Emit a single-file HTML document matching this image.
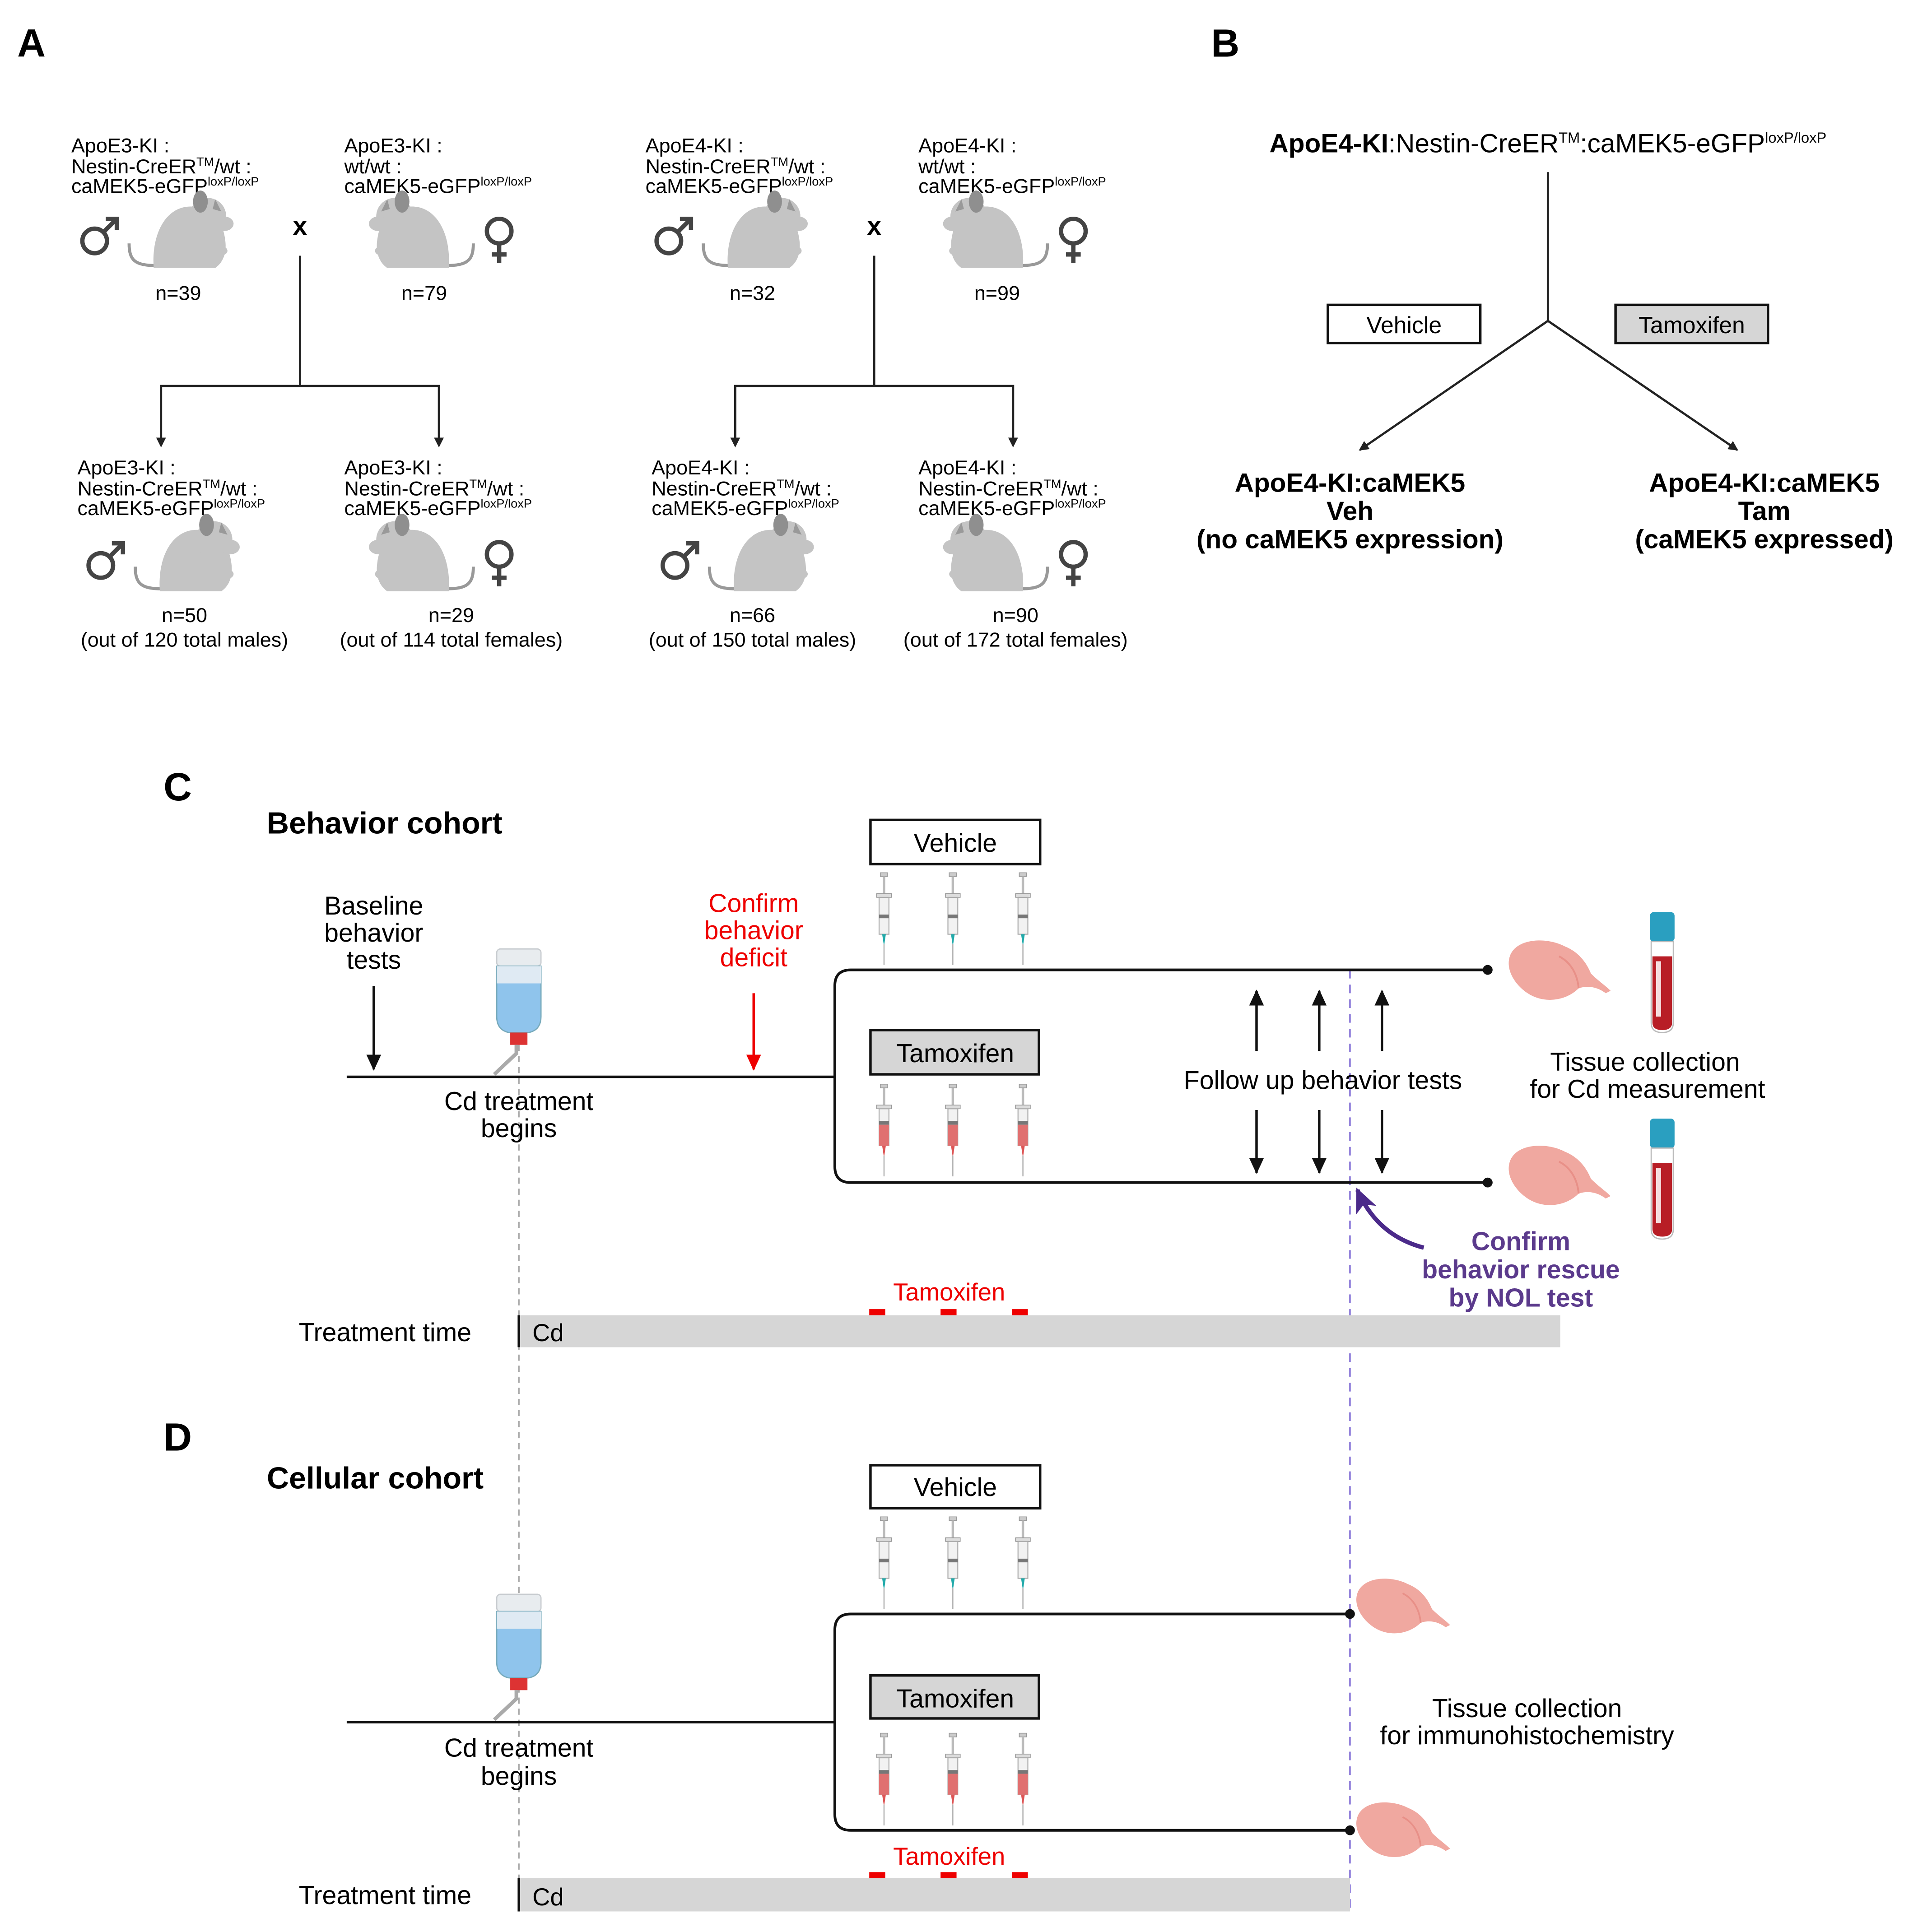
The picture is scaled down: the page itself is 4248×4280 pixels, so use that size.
<!DOCTYPE html>
<html><head><meta charset="utf-8"><style>
html,body{margin:0;padding:0;background:#fff;}
svg{display:block;}
text{font-family:"Liberation Sans",sans-serif;}
</style></head><body>
<svg width="4248" height="4280" viewBox="0 0 1560 1571.7" xmlns="http://www.w3.org/2000/svg">
<defs>
<marker id="ah" markerWidth="8" markerHeight="8" refX="7" refY="4" orient="auto" markerUnits="userSpaceOnUse"><path d="M0,0 L8,4 L0,8 z" fill="#222"/></marker>
<marker id="ahb" markerWidth="14" markerHeight="14" refX="12" refY="7" orient="auto" markerUnits="userSpaceOnUse"><path d="M0,1 L13,7 L0,13 z" fill="#111"/></marker>
<marker id="ahr" markerWidth="14" markerHeight="14" refX="12" refY="7" orient="auto" markerUnits="userSpaceOnUse"><path d="M0,1 L13,7 L0,13 z" fill="#e00"/></marker>
<marker id="ahp" markerWidth="22" markerHeight="22" refX="18" refY="11" orient="auto" markerUnits="userSpaceOnUse"><path d="M0,2 L20,11 L0,20 L5,11 z" fill="#4b2a8a"/></marker>
<g id="mouse">
<path d="M-28,26 C-45,26 -50,22 -50,8" fill="none" stroke="#999" stroke-width="2.5"/>
<path d="M-30,28 C-32,0 -20,-22 0,-22 C18,-22 26,-10 28,4 C30,16 26,24 20,28z" fill="#c4c4c4"/>
<circle cx="14" cy="-14" r="15" fill="#c4c4c4"/>
<ellipse cx="27" cy="-8" rx="8" ry="6" fill="#c4c4c4"/>
<ellipse cx="8" cy="-26" rx="6" ry="9" fill="#8f8f8f"/>
<path d="M20,-28 L25,-18 L18,-20z" fill="#999"/>
<ellipse cx="24" cy="14" rx="6" ry="4" fill="#c4c4c4"/>
</g>
<g id="male"><circle cx="0" cy="0" r="10" fill="none" stroke="#444" stroke-width="3.5"/><path d="M7,-7 L17,-17 M9,-18 L18,-18 L18,-9" fill="none" stroke="#444" stroke-width="3.5"/></g>
<g id="female"><circle cx="0" cy="0" r="10" fill="none" stroke="#444" stroke-width="3.5"/><path d="M0,10 L0,26 M-6,19 L6,19" fill="none" stroke="#444" stroke-width="3.5"/></g>
<g id="syrV">
<rect x="-3" y="0" width="6" height="3" fill="#ccc" stroke="#999" stroke-width="0.6"/>
<rect x="-1" y="3" width="2" height="14" fill="#bbb"/>
<rect x="-6" y="17" width="12" height="3" fill="#ddd" stroke="#999" stroke-width="0.6"/>
<rect x="-4" y="20" width="8" height="30" fill="#f2f2f2" stroke="#aaa" stroke-width="0.8"/>
<rect x="-4" y="34" width="8" height="3" fill="#777"/>
<path d="M-1.5,50 L1.5,50 L0,60z" fill="#2aa"/>
<line x1="0" y1="58" x2="0" y2="75" stroke="#999" stroke-width="0.8"/>
</g>
<g id="syrT">
<rect x="-3" y="0" width="6" height="3" fill="#ccc" stroke="#999" stroke-width="0.6"/>
<rect x="-1" y="3" width="2" height="14" fill="#bbb"/>
<rect x="-6" y="17" width="12" height="3" fill="#ddd" stroke="#999" stroke-width="0.6"/>
<rect x="-4" y="20" width="8" height="30" fill="#f2f2f2" stroke="#aaa" stroke-width="0.8"/>
<rect x="-4" y="30" width="8" height="3" fill="#777"/>
<rect x="-4" y="33" width="8" height="17" fill="#e07070"/>
<path d="M-1.5,50 L1.5,50 L0,60z" fill="#d55"/>
<line x1="0" y1="58" x2="0" y2="75" stroke="#999" stroke-width="0.8"/>
</g>
<g id="bottle">
<rect x="-18" y="0" width="36" height="14" rx="3" fill="#e8ecef" stroke="#c8ccd0"/>
<path d="M-18,14 L18,14 L18,55 Q18,66 8,68 L-8,68 Q-18,66 -18,55z" fill="#8fc4ec" stroke="#7ab"/>
<rect x="-18" y="14" width="36" height="14" fill="#dfeaf3"/>
<rect x="-7" y="68" width="14" height="10" fill="#d33"/>
<path d="M-2,78 L-2,85 L-20,102" fill="none" stroke="#aaa" stroke-width="3"/>
</g>
<g id="brain">
<path d="M0,10 C5,-5 30,-6 45,2 C55,6 62,14 66,24 C72,30 78,34 82,38 L78,40 C70,34 62,34 56,36 C46,46 30,48 18,42 C6,36 -4,22 0,10z" fill="#f0a8a0"/>
<path d="M40,10 C50,15 55,25 56,36" fill="none" stroke="#e89088" stroke-width="1.5"/>
</g>
<g id="tube">
<rect x="-10" y="0" width="20" height="24" rx="3" fill="#2a9fc0"/>
<path d="M-9,24 L9,24 L9,90 Q9,98 0,98 Q-9,98 -9,90z" fill="#fff" stroke="#bbb"/>
<path d="M-8,36 L8,36 L8,90 Q8,96 0,96 Q-8,96 -8,90z" fill="#b81e26"/>
<rect x="-5" y="40" width="4" height="45" fill="#fff" opacity="0.85"/>
</g>
</defs>

<text x="14" y="46" font-size="32" font-weight="bold">A</text>
<text x="985" y="46" font-size="32" font-weight="bold">B</text>
<text x="133" y="651" font-size="32" font-weight="bold">C</text>
<text x="133" y="1180" font-size="32" font-weight="bold">D</text>

<g font-size="16.5">
<text x="58" y="124">ApoE3-KI :</text>
<text x="58" y="141">Nestin-CreER<tspan font-size="10" dy="-6">TM</tspan><tspan dy="6">/wt :</tspan></text>
<text x="58" y="157">caMEK5-eGFP<tspan font-size="10" dy="-6">loxP/loxP</tspan></text>
<use href="#male" x="77" y="196"/>
<use href="#mouse" x="155" y="190"/>
<text x="244" y="191" font-size="21" font-weight="bold" text-anchor="middle">x</text>
<text x="145" y="244" text-anchor="middle">n=39</text>

<text x="280" y="124">ApoE3-KI :</text>
<text x="280" y="141">wt/wt :</text>
<text x="280" y="157">caMEK5-eGFP<tspan font-size="10" dy="-6">loxP/loxP</tspan></text>
<use href="#mouse" transform="translate(335,190) scale(-1,1)"/>
<use href="#female" x="406" y="188"/>
<text x="345" y="244" text-anchor="middle">n=79</text>

<line x1="244" y1="208" x2="244" y2="314" stroke="#222" stroke-width="1.8"/>
<polyline points="131,362 131,314 357,314 357,362" fill="none" stroke="#222" stroke-width="1.8"/>
<path d="M127,356 L135,356 L131,364z M353,356 L361,356 L357,364z" fill="#222"/>

<text x="63" y="386">ApoE3-KI :</text>
<text x="63" y="403">Nestin-CreER<tspan font-size="10" dy="-6">TM</tspan><tspan dy="6">/wt :</tspan></text>
<text x="63" y="419">caMEK5-eGFP<tspan font-size="10" dy="-6">loxP/loxP</tspan></text>
<use href="#male" x="82" y="460"/>
<use href="#mouse" x="160" y="453"/>
<text x="150" y="506" text-anchor="middle">n=50</text>
<text x="150" y="526" text-anchor="middle">(out of 120 total males)</text>

<text x="280" y="386">ApoE3-KI :</text>
<text x="280" y="403">Nestin-CreER<tspan font-size="10" dy="-6">TM</tspan><tspan dy="6">/wt :</tspan></text>
<text x="280" y="419">caMEK5-eGFP<tspan font-size="10" dy="-6">loxP/loxP</tspan></text>
<use href="#mouse" transform="translate(335,453) scale(-1,1)"/>
<use href="#female" x="406" y="451"/>
<text x="367" y="506" text-anchor="middle">n=29</text>
<text x="367" y="526" text-anchor="middle">(out of 114 total females)</text>
</g>

<g font-size="16.5" transform="translate(467,0)">
<text x="58" y="124">ApoE4-KI :</text>
<text x="58" y="141">Nestin-CreER<tspan font-size="10" dy="-6">TM</tspan><tspan dy="6">/wt :</tspan></text>
<text x="58" y="157">caMEK5-eGFP<tspan font-size="10" dy="-6">loxP/loxP</tspan></text>
<use href="#male" x="77" y="196"/>
<use href="#mouse" x="155" y="190"/>
<text x="244" y="191" font-size="21" font-weight="bold" text-anchor="middle">x</text>
<text x="145" y="244" text-anchor="middle">n=32</text>

<text x="280" y="124">ApoE4-KI :</text>
<text x="280" y="141">wt/wt :</text>
<text x="280" y="157">caMEK5-eGFP<tspan font-size="10" dy="-6">loxP/loxP</tspan></text>
<use href="#mouse" transform="translate(335,190) scale(-1,1)"/>
<use href="#female" x="406" y="188"/>
<text x="344" y="244" text-anchor="middle">n=99</text>

<line x1="244" y1="208" x2="244" y2="314" stroke="#222" stroke-width="1.8"/>
<polyline points="131,362 131,314 357,314 357,362" fill="none" stroke="#222" stroke-width="1.8"/>
<path d="M127,356 L135,356 L131,364z M353,356 L361,356 L357,364z" fill="#222"/>

<text x="63" y="386">ApoE4-KI :</text>
<text x="63" y="403">Nestin-CreER<tspan font-size="10" dy="-6">TM</tspan><tspan dy="6">/wt :</tspan></text>
<text x="63" y="419">caMEK5-eGFP<tspan font-size="10" dy="-6">loxP/loxP</tspan></text>
<use href="#male" x="82" y="460"/>
<use href="#mouse" x="160" y="453"/>
<text x="145" y="506" text-anchor="middle">n=66</text>
<text x="145" y="526" text-anchor="middle">(out of 150 total males)</text>

<text x="280" y="386">ApoE4-KI :</text>
<text x="280" y="403">Nestin-CreER<tspan font-size="10" dy="-6">TM</tspan><tspan dy="6">/wt :</tspan></text>
<text x="280" y="419">caMEK5-eGFP<tspan font-size="10" dy="-6">loxP/loxP</tspan></text>
<use href="#mouse" transform="translate(335,453) scale(-1,1)"/>
<use href="#female" x="406" y="451"/>
<text x="359" y="506" text-anchor="middle">n=90</text>
<text x="359" y="526" text-anchor="middle">(out of 172 total females)</text>
</g>

<text x="1259" y="124" font-size="21.5" text-anchor="middle"><tspan font-weight="bold">ApoE4-KI</tspan>:Nestin-CreER<tspan font-size="12" dy="-8">TM</tspan><tspan dy="8">:caMEK5-eGFP</tspan><tspan font-size="12" dy="-8">loxP/loxP</tspan></text>
<line x1="1259" y1="140" x2="1259" y2="261" stroke="#222" stroke-width="1.8"/>
<line x1="1259" y1="261" x2="1106" y2="366" stroke="#222" stroke-width="1.8" marker-end="url(#ah)"/>
<line x1="1259" y1="261" x2="1413" y2="366" stroke="#222" stroke-width="1.8" marker-end="url(#ah)"/>
<rect x="1080" y="248" width="124" height="31" fill="#fff" stroke="#111" stroke-width="2"/>
<text x="1142" y="271" font-size="19" text-anchor="middle">Vehicle</text>
<rect x="1314" y="248" width="124" height="31" fill="#d6d6d6" stroke="#111" stroke-width="2"/>
<text x="1376" y="271" font-size="19" text-anchor="middle">Tamoxifen</text>
<g font-size="21.5" font-weight="bold" text-anchor="middle">
<text x="1098" y="400">ApoE4-KI:caMEK5</text>
<text x="1098" y="423">Veh</text>
<text x="1098" y="446">(no caMEK5 expression)</text>
<text x="1435" y="400">ApoE4-KI:caMEK5</text>
<text x="1435" y="423">Tam</text>
<text x="1435" y="446">(caMEK5 expressed)</text>
</g>

<line x1="422" y1="850" x2="422" y2="1555" stroke="#aaa" stroke-width="1.3" stroke-dasharray="5,4"/>
<line x1="1098" y1="789" x2="1098" y2="1555" stroke="#8a78d8" stroke-width="1.3" stroke-dasharray="7,5"/>

<text x="217" y="678" font-size="25" font-weight="bold">Behavior cohort</text>
<g font-size="21" text-anchor="middle">
<text x="304" y="744">Baseline</text><text x="304" y="766">behavior</text><text x="304" y="788">tests</text>
<text x="422" y="903">Cd treatment</text><text x="422" y="925">begins</text>
<text x="613" y="742" fill="#e00">Confirm</text><text x="613" y="764" fill="#e00">behavior</text><text x="613" y="786" fill="#e00">deficit</text>
<text x="1076" y="886">Follow up behavior tests</text>
<text x="1338" y="871">Tissue collection</text><text x="1340" y="893">for Cd measurement</text>
</g>
<line x1="304" y1="802" x2="304" y2="870" stroke="#111" stroke-width="2" marker-end="url(#ahb)"/>
<line x1="613" y1="808" x2="613" y2="870" stroke="#e00" stroke-width="2" marker-end="url(#ahr)"/>
<line x1="282" y1="876" x2="679" y2="876" stroke="#111" stroke-width="2"/>
<use href="#bottle" x="422" y="772"/>
<path d="M1210,789 L692,789 Q679,789 679,802 L679,949 Q679,962 692,962 L1210,962" fill="none" stroke="#111" stroke-width="2.2"/>
<circle cx="1210" cy="789" r="4" fill="#111"/><circle cx="1210" cy="962" r="4" fill="#111"/>
<rect x="708" y="667" width="138" height="36" fill="#fff" stroke="#111" stroke-width="2"/>
<text x="777" y="693" font-size="21" text-anchor="middle">Vehicle</text>
<rect x="708" y="838" width="137" height="36" fill="#d6d6d6" stroke="#111" stroke-width="2"/>
<text x="777" y="864" font-size="21" text-anchor="middle">Tamoxifen</text>
<use href="#syrV" x="719" y="710"/><use href="#syrV" x="775" y="710"/><use href="#syrV" x="832" y="710"/>
<use href="#syrT" x="719" y="882"/><use href="#syrT" x="775" y="882"/><use href="#syrT" x="832" y="882"/>
<g stroke="#111" stroke-width="2">
<line x1="1022" y1="855" x2="1022" y2="806" marker-end="url(#ahb)"/>
<line x1="1073" y1="855" x2="1073" y2="806" marker-end="url(#ahb)"/>
<line x1="1124" y1="855" x2="1124" y2="806" marker-end="url(#ahb)"/>
<line x1="1022" y1="903" x2="1022" y2="954" marker-end="url(#ahb)"/>
<line x1="1073" y1="903" x2="1073" y2="954" marker-end="url(#ahb)"/>
<line x1="1124" y1="903" x2="1124" y2="954" marker-end="url(#ahb)"/>
</g>
<use href="#brain" x="1228" y="768"/><use href="#brain" x="1228" y="935"/>
<use href="#tube" x="1352" y="742"/><use href="#tube" x="1352" y="910"/>
<path d="M1158,1015 Q1120,1005 1104,968" fill="none" stroke="#4b2a8a" stroke-width="3.5" marker-end="url(#ahp)"/>
<g font-size="21" font-weight="bold" fill="#5b3a8c" text-anchor="middle">
<text x="1237" y="1017">Confirm</text><text x="1237" y="1040">behavior rescue</text><text x="1237" y="1063">by NOL test</text>
</g>
<text x="772" y="1058" font-size="20" fill="#e00" text-anchor="middle">Tamoxifen</text>
<rect x="707" y="1065" width="13" height="5" fill="#e00"/><rect x="765" y="1065" width="13" height="5" fill="#e00"/><rect x="823" y="1065" width="13" height="5" fill="#e00"/>
<rect x="423" y="1070" width="846" height="26" fill="#d6d6d6"/>
<line x1="422" y1="1070" x2="422" y2="1096" stroke="#111" stroke-width="2"/>
<text x="243" y="1091" font-size="21">Treatment time</text>
<text x="433" y="1091" font-size="20">Cd</text>

<text x="217" y="1211" font-size="25" font-weight="bold">Cellular cohort</text>
<g font-size="21" text-anchor="middle">
<text x="422" y="1429">Cd treatment</text><text x="422" y="1452">begins</text>
<text x="1242" y="1397">Tissue collection</text><text x="1242" y="1419">for immunohistochemistry</text>
</g>
<line x1="282" y1="1401" x2="679" y2="1401" stroke="#111" stroke-width="2"/>
<use href="#bottle" x="422" y="1297"/>
<path d="M1098,1313 L692,1313 Q679,1313 679,1326 L679,1476 Q679,1489 692,1489 L1098,1489" fill="none" stroke="#111" stroke-width="2.2"/>
<circle cx="1098" cy="1313" r="4" fill="#111"/><circle cx="1098" cy="1489" r="4" fill="#111"/>
<rect x="708" y="1192" width="138" height="35" fill="#fff" stroke="#111" stroke-width="2"/>
<text x="777" y="1217" font-size="21" text-anchor="middle">Vehicle</text>
<rect x="708" y="1363" width="137" height="35" fill="#d6d6d6" stroke="#111" stroke-width="2"/>
<text x="777" y="1389" font-size="21" text-anchor="middle">Tamoxifen</text>
<use href="#syrV" x="719" y="1234"/><use href="#syrV" x="775" y="1234"/><use href="#syrV" x="832" y="1234"/>
<use href="#syrT" x="719" y="1410"/><use href="#syrT" x="775" y="1410"/><use href="#syrT" x="832" y="1410"/>
<use href="#brain" transform="translate(1104,1287) scale(0.92)"/><use href="#brain" transform="translate(1104,1469) scale(0.92)"/>
<text x="772" y="1517" font-size="20" fill="#e00" text-anchor="middle">Tamoxifen</text>
<rect x="707" y="1523" width="13" height="5" fill="#e00"/><rect x="765" y="1523" width="13" height="5" fill="#e00"/><rect x="823" y="1523" width="13" height="5" fill="#e00"/>
<rect x="423" y="1528" width="675" height="27" fill="#d6d6d6"/>
<line x1="422" y1="1528" x2="422" y2="1555" stroke="#111" stroke-width="2"/>
<text x="243" y="1549" font-size="21">Treatment time</text>
<text x="433" y="1550" font-size="20">Cd</text>
</svg>
</body></html>
